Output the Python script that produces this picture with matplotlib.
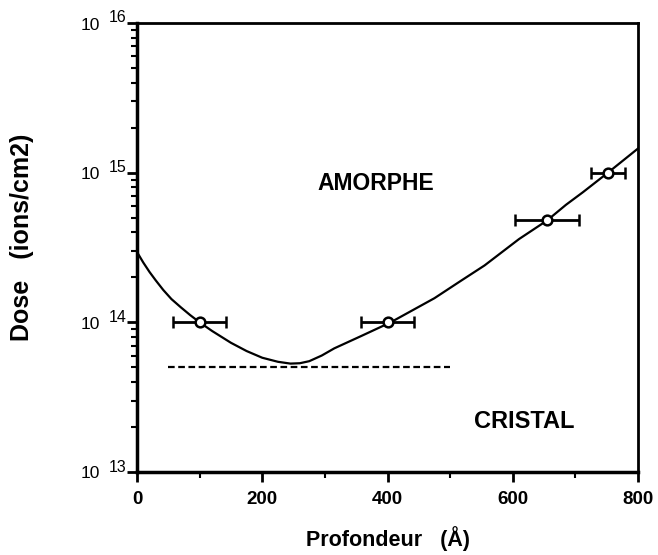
import matplotlib
matplotlib.use("Agg")
import matplotlib.pyplot as plt
from matplotlib.ticker import FixedLocator, LogLocator, NullFormatter, FuncFormatter
import math

# Data
pts_x = [100, 400, 655, 752]
pts_y = [1.0e14, 1.0e14, 4.8e14, 1.0e15]
pts_xerr = [42, 42, 51, 27]

curve_x = [0, 10, 20, 30, 42, 55, 70, 85, 100, 120, 150, 175, 200, 225, 245, 260, 275,
           295, 315, 358, 405, 475, 516, 555, 610, 655, 685, 712, 752, 800]
curve_y = [2.95e14, 2.51e14, 2.17e14, 1.905e14, 1.644e14, 1.43e14, 1.26e14, 1.117e14, 1.0e14,
           8.75e13, 7.3e13, 6.43e13, 5.8e13, 5.45e13, 5.3e13, 5.33e13, 5.5e13,
           6.0e13, 6.7e13, 8.1e13, 1.0e14, 1.45e14, 1.88e14, 2.4e14, 3.6e14, 4.8e14,
           6.1e14, 7.4e14, 1.0e15, 1.45e15]

thresh_x = [50, 500]
thresh_y = [5.0e13, 5.0e13]

x_ticks = [0, 200, 400, 600, 800]
y_ticks = [1e13, 1e14, 1e15, 1e16]

plt.rcParams['font.family'] = ['Liberation Sans', 'DejaVu Sans']

fig = plt.figure(figsize=(6.58, 5.55), dpi=100)
ax = fig.add_axes([137/658, (555-472)/555, 501/658, 449/555])

ax.plot(curve_x, curve_y, color='black', lw=1.6, solid_joinstyle='round')
ax.plot(thresh_x, thresh_y, color='black', lw=1.6, ls=(0, (3, 1.6)))
ax.errorbar(pts_x, pts_y, xerr=pts_xerr, fmt='o', mfc='white', mec='black',
            mew=1.8, ms=7, ecolor='black', elinewidth=2, capsize=4.5, capthick=1.6,
            color='black', zorder=3)

ax.set_yscale('log')
ax.set_xlim(0, 800)
ax.set_ylim(1e13, 1e16)

ax.xaxis.set_major_locator(FixedLocator(x_ticks))
ax.xaxis.set_minor_locator(FixedLocator([100, 300, 500, 700]))
ax.yaxis.set_major_locator(FixedLocator(y_ticks))
ax.yaxis.set_minor_locator(LogLocator(base=10, subs=range(2, 10)))
ax.yaxis.set_minor_formatter(NullFormatter())
ax.yaxis.set_major_formatter(NullFormatter())
ax.xaxis.set_major_formatter(FuncFormatter(lambda v, p: '%d' % v))

ax.tick_params(axis='both', which='major', direction='out', length=7, width=2,
               top=False, right=False)
ax.tick_params(axis='both', which='minor', direction='out', length=4, width=1.5,
               top=False, right=False)
ax.tick_params(axis='x', pad=7, labelsize=13.5)
for lab in ax.get_xticklabels():
    lab.set_fontweight('bold')

# y tick labels: "10" with a large superscript exponent
ytr = ax.get_yaxis_transform()
for v in y_ticks:
    e = int(round(math.log10(v)))
    ax.annotate('10', xy=(0, v), xycoords=ytr, xytext=(-37, -2),
                textcoords='offset pixels', ha='right', va='center', fontsize=12.5,
                annotation_clip=False)
    ax.annotate('%d' % e, xy=(0, v), xycoords=ytr, xytext=(-10, 5),
                textcoords='offset pixels', ha='right', va='center', fontsize=11.5,
                annotation_clip=False)

for s in ['left', 'bottom']:
    ax.spines[s].set_linewidth(2.5)
for s in ['top', 'right']:
    ax.spines[s].set_linewidth(2.0)

ax.text(382, 8.45e14, 'AMORPHE', fontsize=16.5, fontweight='bold', ha='center', va='center')
ax.text(618, 2.17e13, 'CRISTAL', fontsize=17, fontweight='bold', ha='center', va='center')

ax.set_xlabel('Profondeur   (Å)', fontsize=15.5, fontweight='bold', labelpad=13)
ax.set_ylabel('Dose   (ions/cm2)', fontsize=18, fontweight='bold')
ax.yaxis.set_label_coords(-0.205, 0.523)

fig.savefig('out.png', dpi=100)
